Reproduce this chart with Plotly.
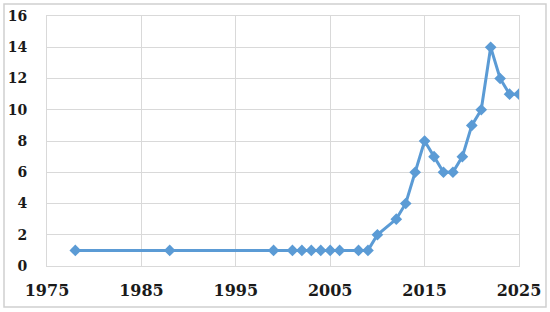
import plotly.graph_objects as go

# data
years = [1978, 1988, 1999, 2001, 2002, 2003, 2004, 2005, 2006, 2008, 2009,
         2010, 2012, 2013, 2014, 2015, 2016, 2017, 2018, 2019, 2020, 2021,
         2022, 2023, 2024, 2025]
counts = [1, 1, 1, 1, 1, 1, 1, 1, 1, 1, 1,
          2, 3, 4, 6, 8, 7, 6, 6, 7, 9, 10,
          14, 12, 11, 11]

x_ticks = [1975, 1985, 1995, 2005, 2015, 2025]
y_ticks = [0, 2, 4, 6, 8, 10, 12, 14, 16]

blue = "#5b9bd5"
grid = "#d9d9d9"
serif = "DejaVu Serif, Liberation Serif, serif"

fig = go.Figure()
fig.add_trace(go.Scatter(
    x=years, y=counts, mode="lines+markers",
    line=dict(color=blue, width=3),
    marker=dict(symbol="diamond", size=9, color=blue),
    showlegend=False,
))

fig.update_layout(
    width=550, height=312,
    margin=dict(l=47, r=31, t=16, b=46),
    paper_bgcolor="white", plot_bgcolor="white",
    font=dict(family=serif, size=15, color="#1a1a1a"),
)
fig.update_xaxes(
    range=[1975, 2025], tickvals=x_ticks, ticktext=[f"<b>{t}</b>" for t in x_ticks],
    tickfont=dict(size=16), automargin=False,
    showgrid=True, gridcolor=grid, gridwidth=1,
    showline=True, linecolor=grid, mirror=True, zeroline=False,
    ticks="", ticklabelstandoff=10,
)
fig.update_yaxes(
    range=[0, 16], tickvals=y_ticks, ticktext=[f"<b>{t}</b>" for t in y_ticks],
    tickfont=dict(size=14), automargin=False,
    showgrid=True, gridcolor=grid, gridwidth=1,
    showline=True, linecolor=grid, mirror=True, zeroline=False,
    ticks="", ticklabelstandoff=16,
)

# light frame around the whole picture
fig.add_shape(type="rect", xref="paper", yref="paper",
              x0=-0.0911, x1=1.0572, y0=-0.164, y1=1.048,
              line=dict(color="#d0d0d0", width=1.5), layer="below")

pin = ("document.body.style.margin='0';"
       "var d=document.getElementById('{plot_id}');"
       "d.style.position='fixed';d.style.top='0';d.style.left='0';")
fig.write_html("out.html", config={"displayModeBar": False}, post_script=pin)
